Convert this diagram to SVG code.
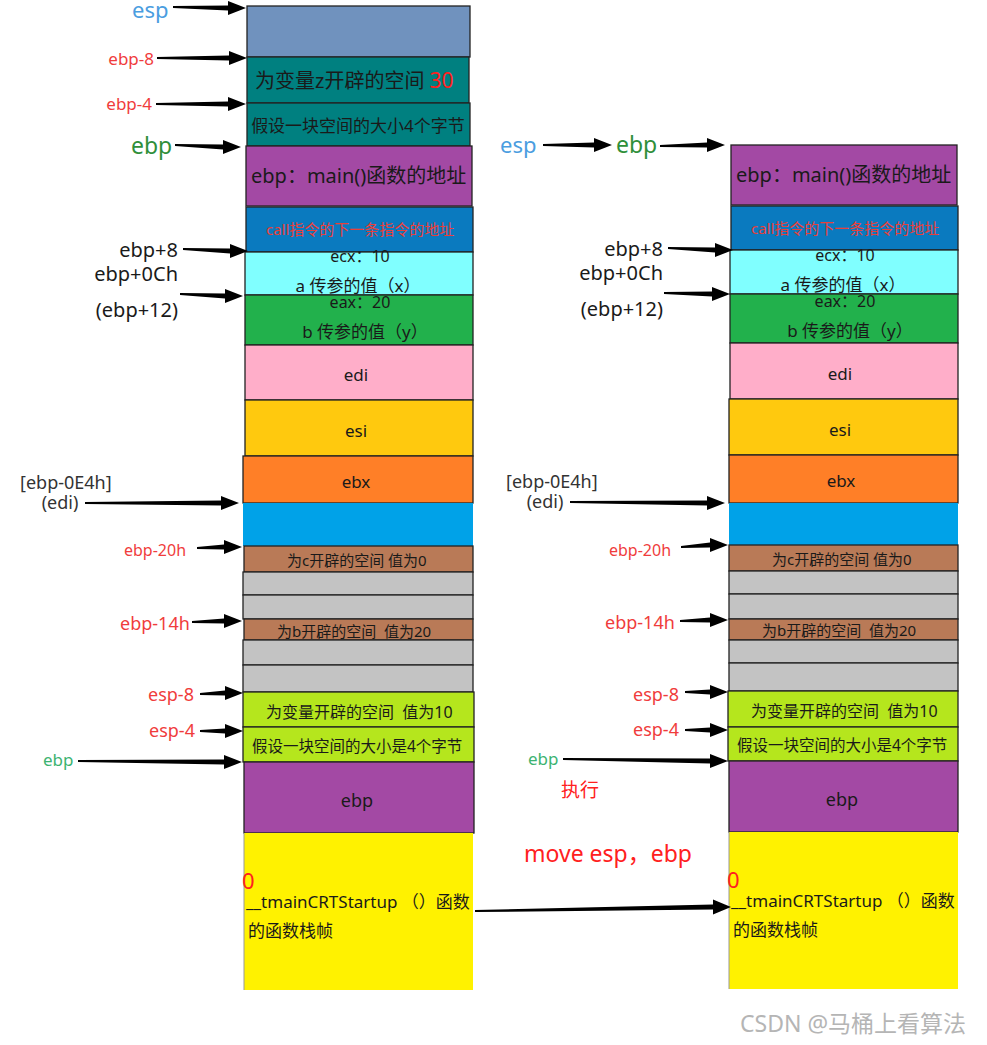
<svg xmlns="http://www.w3.org/2000/svg" width="987" height="1045" viewBox="0 0 987 1045">
<style>
text{font-family:"Noto Sans","Noto Sans CJK SC",sans-serif;}
.blk{stroke:#222;stroke-width:1.3;}
.arr{fill:#000;}
.t{fill:#1a1a1a;}
.red{fill:#f03c3c;}
.blue{fill:#4a9de0;}
.grn{fill:#2f8f3a;}
.lgrn{fill:#3cb371;}
.c-slate{fill:#7092be;}
.c-teal{fill:#008080;}
.c-purple{fill:#a349a4;}
.c-call{fill:#0a7abf;}
.c-cyan{fill:#80ffff;}
.c-green{fill:#22b14c;}
.c-pink{fill:#ffaec9;}
.c-esi{fill:#ffc90e;}
.c-ebx{fill:#ff7f27;}
.c-sky{fill:#00a2e8;}
.c-brown{fill:#b97a57;}
.c-gray{fill:#c3c3c3;}
.c-lime{fill:#b5e61d;}
.c-yellow{fill:#fff200;}
</style>
<rect width="987" height="1045" fill="#fff"/>

<!-- LEFT STACK -->
<g id="L-esp-slot"><rect class="blk c-slate" x="247" y="6" width="223" height="51"/></g>
<g id="L-z"><rect class="blk c-teal" x="247" y="57" width="222" height="46"/><text x="255" y="88" font-size="20" class="t">为变量z开辟的空间 <tspan fill="#ff2020" font-size="21">30</tspan></text></g>
<g id="L-4byte"><rect class="blk c-teal" x="247" y="103" width="223" height="43"/><text x="358" y="132" font-size="17" text-anchor="middle" class="t">假设一块空间的大小4个字节</text></g>
<g id="L-ebp-main"><rect class="blk c-purple" x="246" y="146" width="226" height="60"/><text x="251" y="183" font-size="20" class="t">ebp：main()函数的地址</text></g>
<g id="L-call"><rect class="blk c-call" x="246" y="207" width="227" height="45"/><text x="266" y="235" font-size="15" fill="#e8403a">call指令的下一条指令的地址</text></g>
<g id="L-ecx"><rect class="blk c-cyan" x="245" y="252" width="228" height="43"/><text x="360" y="262" font-size="16" text-anchor="middle" class="t">ecx：10</text><text x="358" y="292" font-size="17" text-anchor="middle" class="t">a 传参的值（x）</text></g>
<g id="L-eax"><rect class="blk c-green" x="245" y="295" width="228" height="50"/><text x="360" y="308" font-size="16" text-anchor="middle" class="t">eax：20</text><text x="365" y="338" font-size="17" text-anchor="middle" class="t">b 传参的值（y）</text></g>
<g id="L-edi"><rect class="blk c-pink" x="245" y="345" width="228" height="55"/><text x="356" y="381" font-size="17" text-anchor="middle" class="t">edi</text></g>
<g id="L-esi"><rect class="blk c-esi" x="245" y="400" width="228" height="56"/><text x="356" y="437" font-size="17" text-anchor="middle" class="t">esi</text></g>
<g id="L-ebx"><rect class="blk c-ebx" x="243" y="456" width="230" height="47"/><text x="356" y="488" font-size="17" text-anchor="middle" class="t">ebx</text></g>
<g id="L-sky"><rect class="c-sky" x="243" y="503" width="230" height="43"/></g>
<g id="L-c"><rect class="blk c-brown" x="244" y="546" width="229" height="26"/><text x="287" y="566" font-size="15" class="t">为c开辟的空间 值为0</text></g>
<g id="L-gray1"><rect class="blk c-gray" x="243" y="572" width="230" height="23"/></g>
<g id="L-gray2"><rect class="blk c-gray" x="243" y="595" width="230" height="24"/></g>
<g id="L-b"><rect class="blk c-brown" x="244" y="619" width="229" height="21"/><text x="277" y="637" font-size="15" class="t">为b开辟的空间&#160;&#160;值为20</text></g>
<g id="L-gray3"><rect class="blk c-gray" x="243" y="640" width="230" height="25"/></g>
<g id="L-gray4"><rect class="blk c-gray" x="243" y="665" width="230" height="27"/></g>
<g id="L-v10"><rect class="blk c-lime" x="243" y="692" width="231" height="35"/><text x="266" y="718" font-size="16" class="t">为变量开辟的空间&#160;&#160;值为10</text></g>
<g id="L-v4"><rect class="blk c-lime" x="243" y="727" width="231" height="35"/><text x="252" y="752" font-size="15.5" class="t">假设一块空间的大小是4个字节</text></g>
<g id="L-ebp"><rect class="blk c-purple" x="244" y="762" width="230" height="71"/><text x="357" y="807" font-size="18" text-anchor="middle" class="t">ebp</text></g>
<g id="L-crt"><rect class="c-yellow" x="244" y="833" width="229" height="157"/><line x1="244" y1="833" x2="244" y2="990" stroke="#999" stroke-width="1"/><text x="242" y="889" font-size="22" fill="#ff2020">0</text><text x="246" y="908" font-size="17" class="t">__tmainCRTStartup&#160;（）函数</text><text x="248" y="937" font-size="17" class="t">的函数栈帧</text></g>

<!-- RIGHT STACK -->
<g id="R-ebp-main"><rect class="blk c-purple" x="731" y="145" width="226" height="60"/><text x="736" y="182" font-size="20" class="t">ebp：main()函数的地址</text></g>
<g id="R-call"><rect class="blk c-call" x="731" y="206" width="227" height="44"/><text x="751" y="234" font-size="15" fill="#e8403a">call指令的下一条指令的地址</text></g>
<g id="R-ecx"><rect class="blk c-cyan" x="730" y="250" width="228" height="44"/><text x="845" y="261" font-size="16" text-anchor="middle" class="t">ecx：10</text><text x="843" y="291" font-size="17" text-anchor="middle" class="t">a 传参的值（x）</text></g>
<g id="R-eax"><rect class="blk c-green" x="730" y="294" width="228" height="49"/><text x="845" y="307" font-size="16" text-anchor="middle" class="t">eax：20</text><text x="850" y="337" font-size="17" text-anchor="middle" class="t">b 传参的值（y）</text></g>
<g id="R-edi"><rect class="blk c-pink" x="730" y="343" width="228" height="56"/><text x="840" y="380" font-size="17" text-anchor="middle" class="t">edi</text></g>
<g id="R-esi"><rect class="blk c-esi" x="729" y="399" width="229" height="56"/><text x="840" y="436" font-size="17" text-anchor="middle" class="t">esi</text></g>
<g id="R-ebx"><rect class="blk c-ebx" x="729" y="455" width="229" height="48"/><text x="841" y="487" font-size="17" text-anchor="middle" class="t">ebx</text></g>
<g id="R-sky"><rect class="c-sky" x="729" y="503" width="229" height="42"/></g>
<g id="R-c"><rect class="blk c-brown" x="729" y="545" width="229" height="26"/><text x="772" y="565" font-size="15" class="t">为c开辟的空间 值为0</text></g>
<g id="R-gray1"><rect class="blk c-gray" x="729" y="571" width="229" height="23"/></g>
<g id="R-gray2"><rect class="blk c-gray" x="729" y="594" width="229" height="25"/></g>
<g id="R-b"><rect class="blk c-brown" x="729" y="619" width="229" height="21"/><text x="762" y="636" font-size="15" class="t">为b开辟的空间&#160;&#160;值为20</text></g>
<g id="R-gray3"><rect class="blk c-gray" x="729" y="640" width="229" height="23"/></g>
<g id="R-gray4"><rect class="blk c-gray" x="729" y="663" width="229" height="28"/></g>
<g id="R-v10"><rect class="blk c-lime" x="728" y="691" width="230" height="36"/><text x="751" y="717" font-size="16" class="t">为变量开辟的空间&#160;&#160;值为10</text></g>
<g id="R-v4"><rect class="blk c-lime" x="728" y="727" width="230" height="34"/><text x="737" y="751" font-size="15.5" class="t">假设一块空间的大小是4个字节</text></g>
<g id="R-ebp"><rect class="blk c-purple" x="729" y="761" width="229" height="71"/><text x="842" y="806" font-size="18" text-anchor="middle" class="t">ebp</text></g>
<g id="R-crt"><rect class="c-yellow" x="729" y="832" width="229" height="157"/><line x1="729" y1="832" x2="729" y2="989" stroke="#999" stroke-width="1"/><text x="727" y="888" font-size="22" fill="#ff2020">0</text><text x="731" y="907" font-size="17" class="t">__tmainCRTStartup&#160;（）函数</text><text x="733" y="936" font-size="17" class="t">的函数栈帧</text></g>

<!-- LABELS LEFT -->
<g id="labels-left">
<text x="132" y="18" font-size="22" class="blue">esp</text>
<text x="154" y="65" font-size="17" text-anchor="end" class="red">ebp-8</text>
<text x="152" y="110" font-size="17" text-anchor="end" class="red">ebp-4</text>
<text x="131" y="154" font-size="23" class="grn">ebp</text>
<text x="178" y="257" font-size="20" text-anchor="end" class="t">ebp+8</text>
<text x="178" y="281" font-size="20" text-anchor="end" class="t">ebp+0Ch</text>
<text x="178" y="317" font-size="20" text-anchor="end" class="t">(ebp+12)</text>
<text x="20" y="489" font-size="18" fill="#333">[ebp-0E4h]</text>
<text x="60" y="509" font-size="18" text-anchor="middle" fill="#333">(edi)</text>
<text x="124" y="556" font-size="16" class="red">ebp-20h</text>
<text x="120" y="630" font-size="18" class="red">ebp-14h</text>
<text x="148" y="701" font-size="18" class="red">esp-8</text>
<text x="149" y="737" font-size="18" class="red">esp-4</text>
<text x="43" y="766" font-size="17" class="lgrn">ebp</text>
</g>

<!-- LABELS RIGHT -->
<g id="labels-right">
<text x="500" y="153" font-size="22" class="blue">esp</text>
<text x="616" y="153" font-size="23" class="grn">ebp</text>
<text x="663" y="256" font-size="20" text-anchor="end" class="t">ebp+8</text>
<text x="663" y="280" font-size="20" text-anchor="end" class="t">ebp+0Ch</text>
<text x="663" y="316" font-size="20" text-anchor="end" class="t">(ebp+12)</text>
<text x="506" y="488" font-size="18" fill="#333">[ebp-0E4h]</text>
<text x="545" y="508" font-size="18" text-anchor="middle" fill="#333">(edi)</text>
<text x="609" y="556" font-size="16" class="red">ebp-20h</text>
<text x="605" y="629" font-size="18" class="red">ebp-14h</text>
<text x="633" y="701" font-size="18" class="red">esp-8</text>
<text x="633" y="736" font-size="18" class="red">esp-4</text>
<text x="528" y="765" font-size="17" class="lgrn">ebp</text>
<text x="561" y="797" font-size="19" fill="#ff2020">执行</text>
<text x="524" y="862" font-size="23" fill="#ff2020">move esp，ebp</text>
</g>

<!-- CONNECTORS -->
<g id="connectors">
<path class="arr" d="M173 6 L228 5.5 L228 1 L246 8 L228 15 L228 10.5 L173 8Z"/>
<path class="arr" d="M157 57 L229 55.5 L229 51 L247 58 L229 65 L229 60.5 L157 59Z"/>
<path class="arr" d="M156 103 L228 101.5 L228 97 L246 104 L228 111 L228 106.5 L156 105Z"/>
<path class="arr" d="M175 144 L223 144.5 L223 140 L241 147 L223 154 L223 149.5 L175 146Z"/>
<path class="arr" d="M183 248 L230 248.5 L230 244 L248 251 L230 258 L230 253.5 L183 250Z"/>
<path class="arr" d="M180 293 L225 293.5 L225 289 L243 296 L225 303 L225 298.5 L180 295Z"/>
<path class="arr" d="M85 502 L221 500.5 L221 496 L239 503 L221 510 L221 505.5 L85 504Z"/>
<path class="arr" d="M197 547 L224 544.5 L224 540 L242 547 L224 554 L224 549.5 L197 549Z"/>
<path class="arr" d="M192 621 L224 618.5 L224 614 L242 621 L224 628 L224 623.5 L192 623Z"/>
<path class="arr" d="M200 693 L225 690.5 L225 686 L243 693 L225 700 L225 695.5 L200 695Z"/>
<path class="arr" d="M200 730 L225 728.5 L225 724 L243 731 L225 738 L225 733.5 L200 732Z"/>
<path class="arr" d="M78 760 L224 759.5 L224 755 L242 762 L224 769 L224 764.5 L78 762Z"/>
<path class="arr" d="M543 144 L594 142.5 L594 138 L612 145 L594 152 L594 147.5 L543 146Z"/>
<path class="arr" d="M660 145 L707 142.5 L707 138 L725 145 L707 152 L707 147.5 L660 147Z"/>
<path class="arr" d="M668 247 L715 247.5 L715 243 L733 250 L715 257 L715 252.5 L668 249Z"/>
<path class="arr" d="M664 292 L712 291.5 L712 287 L730 294 L712 301 L712 296.5 L664 294Z"/>
<path class="arr" d="M570 501 L707 500.5 L707 496 L725 503 L707 510 L707 505.5 L570 503Z"/>
<path class="arr" d="M681 546 L710 542.5 L710 538 L728 545 L710 552 L710 547.5 L681 548Z"/>
<path class="arr" d="M680 620 L710 617.5 L710 613 L728 620 L710 627 L710 622.5 L680 622Z"/>
<path class="arr" d="M685 691 L710 689.5 L710 685 L728 692 L710 699 L710 694.5 L685 693Z"/>
<path class="arr" d="M685 729 L710 727.5 L710 723 L728 730 L710 737 L710 732.5 L685 731Z"/>
<path class="arr" d="M563 758 L710 758.5 L710 754 L728 761 L710 768 L710 763.5 L563 760Z"/>
<path class="arr" d="M475 910 L713 904.5 L713 899.5 L731 907 L713 914.5 L713 909.5 L475 912Z"/>
</g>

<text x="740" y="1032" font-size="23" fill="#b5b5b5">CSDN @马桶上看算法</text>
</svg>
